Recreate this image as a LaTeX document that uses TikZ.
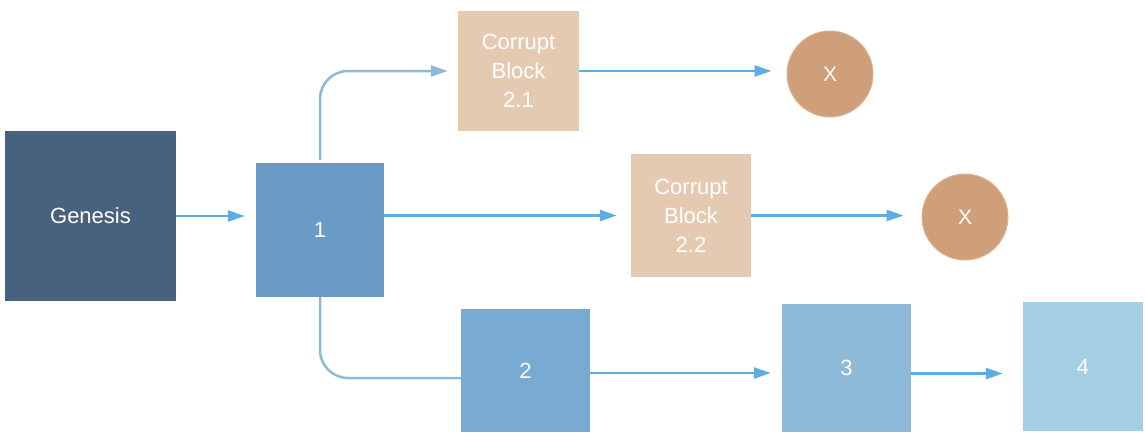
\documentclass[tikz,border=0pt]{standalone}
\usepackage{fontspec}
\setmainfont{Liberation Sans}
\usetikzlibrary{arrows.meta,positioning,calc}
\definecolor{genc}{HTML}{46627D}
\definecolor{b1c}{HTML}{6A9AC6}
\definecolor{b2c}{HTML}{78AAD2}
\definecolor{b3c}{HTML}{8DBAD8}
\definecolor{b4c}{HTML}{A4CEE3}
\definecolor{corc}{HTML}{E5CAB2}
\definecolor{xc}{HTML}{CF9F7A}
\definecolor{xb}{HTML}{DDB495}
\definecolor{arc}{HTML}{5AAEE0}
\definecolor{arc2}{HTML}{8DBAD6}
\tikzset{
  blk/.style={rectangle, draw=none, inner sep=0pt, text=white, align=center,
    font=\fontsize{22}{29}\selectfont},
  xnode/.style={circle, fill=xc, draw=xb, line width=1pt, inner sep=0pt,
    minimum size=86pt, text=white, font=\fontsize{21}{25}\selectfont},
  conn/.style={draw=arc, line width=2.5pt, -{Triangle[length=17pt,width=11pt]}},
  bentline/.style={draw=arc2, line width=2.5pt, rounded corners=28pt}
}
\begin{document}
\begin{tikzpicture}[x=1pt,y=-1pt]
\useasboundingbox (0,0) rectangle (1145,434);
\node[blk, fill=genc, minimum width=171pt, minimum height=170pt] (gen) at (90.5,216) {Genesis};
\node[blk, fill=b1c, minimum width=128pt, minimum height=134pt] (b1) at (320,230) {1};
\node[blk, fill=corc, minimum width=121pt, minimum height=120pt] (c21) at (518.5,71) {Corrupt\\Block\\2.1};
\node[blk, fill=corc, minimum width=120pt, minimum height=123pt] (c22) at (691,215.5) {Corrupt\\Block\\2.2};
\node[xnode] (x1) at (830,74) {X};
\node[xnode] (x2) at (965,217) {X};
\node[blk, fill=b2c, minimum width=129pt, minimum height=123pt] (b2) at (525.5,370.5) {2};
\node[blk, fill=b3c, minimum width=129pt, minimum height=128pt] (b3) at (846.5,368) {3};
\node[blk, fill=b4c, minimum width=120pt, minimum height=129pt] (b4) at (1083,366.5) {4};

\draw[conn, shorten >=11pt] (gen.east) -- (gen.east -| b1.west);
\draw[conn, shorten >=14pt] (b1.east |- c22.west) -- (c22.west);
\draw[conn, shorten >=15pt] (c21.east) -- (c21.east -| x1.west);
\draw[conn, shorten >=18pt] (c22.east) -- (c22.east -| x2.west);
\draw[conn, shorten >=11pt] ([yshift=-2.5pt]b2.east) -- ([yshift=-2.5pt]b2.east -| b3.west);
\draw[conn, shorten >=20pt] ([yshift=-5.5pt]b3.east) -- ([yshift=-5.5pt]b3.east -| b4.west);
\draw[bentline, -{Triangle[length=17pt,width=11pt]}, shorten <=3pt, shorten >=10pt] (b1.north) |- (c21.west);
\draw[bentline] (b1.south) |- ([yshift=-7.5pt]b2.west);
\end{tikzpicture}
\end{document}
